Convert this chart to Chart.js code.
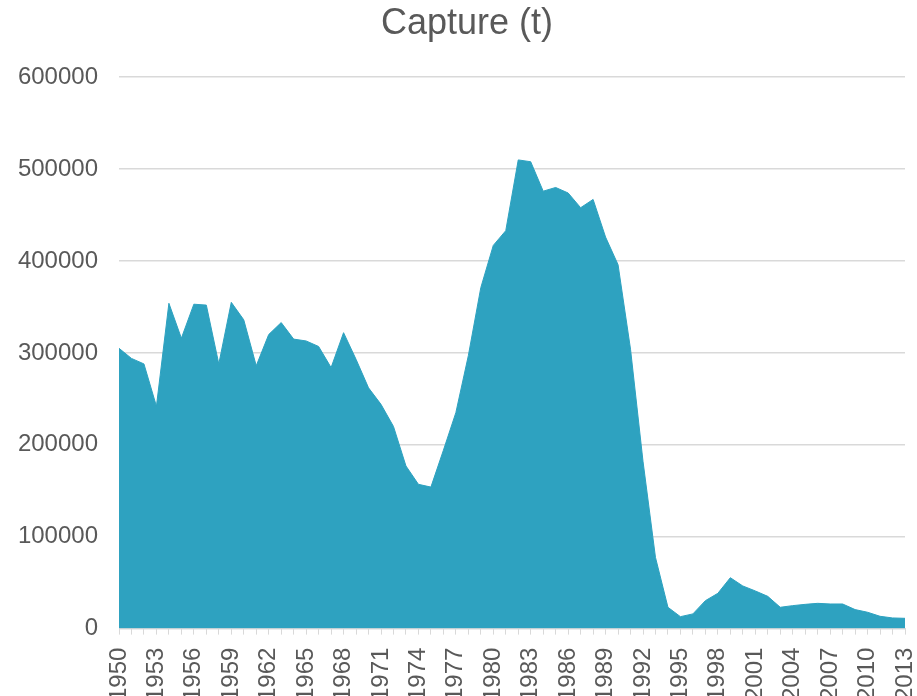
<!DOCTYPE html>
<html>
<head>
<meta charset="utf-8">
<script src="https://cdn.jsdelivr.net/npm/chart.js@4/dist/chart.umd.min.js"></script>
<style>
  html, body { margin: 0; padding: 0; background: #ffffff; overflow: hidden; }
  #wrap { width: 917px; height: 696px; position: relative; overflow: hidden; }
</style>
</head>
<body>
<div id="wrap"><canvas id="c" width="917" height="714"></canvas></div>
<script>
const years = [1950,1951,1952,1953,1954,1955,1956,1957,1958,1959,1960,1961,1962,1963,1964,1965,1966,1967,1968,1969,
  1970,1971,1972,1973,1974,1975,1976,1977,1978,1979,1980,1981,1982,1983,1984,1985,1986,1987,1988,1989,
  1990,1991,1992,1993,1994,1995,1996,1997,1998,1999,2000,2001,2002,2003,2004,2005,2006,2007,2008,2009,
  2010,2011,2012,2013];
const capture = [305000,294000,288000,242000,354000,316000,353000,352000,288000,355000,
  336000,286000,320000,333000,315000,313000,307000,284000,322000,293000,
  262000,244000,220000,177000,157000,154000,194000,235000,297000,371000,
  417000,433000,510000,508000,476000,480000,474000,458000,467000,426000,
  396000,304000,182000,77500,23200,13000,16000,30400,38400,55400,
  46400,41000,35100,23200,25000,26400,27500,26800,26800,20700,
  17800,13400,11600,11200];
const yTicks = [0,100000,200000,300000,400000,500000,600000];
const titleText = 'Capture (t)';

const textColor = '#595959';
const fontFamily = '"Liberation Sans", Arial, sans-serif';

const shiftTitle = {
  id: 'shiftTitle',
  afterLayout(chart) {
    const t = chart.titleBlock;
    if (t) { t.left += 29; }
  }
};

new Chart(document.getElementById('c'), {
  type: 'line',
  data: {
    labels: years.map(String),
    datasets: [{
      data: capture,
      fill: 'origin',
      backgroundColor: 'rgb(46,162,192)',
      borderColor: 'rgb(46,162,192)',
      borderWidth: 1,
      pointRadius: 0,
      tension: 0
    }]
  },
  plugins: [shiftTitle],
  options: {
    responsive: false,
    animation: false,
    layout: { padding: { left: 0, right: 12, top: 0, bottom: 0 } },
    plugins: {
      legend: { display: false },
      tooltip: { enabled: false },
      title: {
        display: true,
        text: titleText,
        color: textColor,
        font: { family: fontFamily, size: 36, weight: 'normal' },
        padding: { top: 2, bottom: 32 }
      }
    },
    scales: {
      x: {
        offset: false,
        afterFit: (s) => { s.paddingLeft = 0; s.paddingRight = 0; },
        grid: { display: true, drawOnChartArea: false, drawTicks: true, tickLength: 6, color: '#d9d9d9' },
        border: { display: true, color: '#d9d9d9', width: 1 },
        ticks: {
          autoSkip: false,
          maxRotation: 90,
          minRotation: 90,
          padding: 13,
          color: textColor,
          font: { family: fontFamily, size: 24 },
          callback: function(v, i) { return (i % 3 === 0) ? this.getLabelForValue(v) : ''; }
        }
      },
      y: {
        min: 0,
        max: 600000,
        afterBuildTicks: (axis) => { axis.ticks = yTicks.map(v => ({ value: v })); },
        afterFit: (s) => { s.width = 119; },
        grid: { color: '#d9d9d9', lineWidth: 1.5, drawTicks: false },
        border: { display: false },
        ticks: {
          padding: 21,
          color: textColor,
          font: { family: fontFamily, size: 24 },
          callback: (v) => String(v)
        }
      }
    }
  }
});
</script>
</body>
</html>
